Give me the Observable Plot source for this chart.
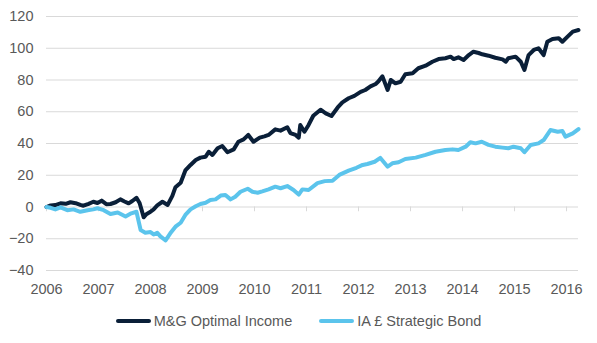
<!DOCTYPE html>
<html><head><meta charset="utf-8">
<script src="https://cdn.jsdelivr.net/npm/d3@7"></script>
<script src="https://cdn.jsdelivr.net/npm/@observablehq/plot@0.6"></script>
<style>
body{margin:0;background:#fff;font-family:"Liberation Sans",Arial,sans-serif;}
#legend{display:flex;justify-content:center;align-items:center;height:32px;font-size:14.5px;color:#595959;width:597px;}
.item{display:flex;align-items:center;}
.sw{width:35px;height:4px;margin-right:3px;border-radius:2px;}
</style></head><body><div id="chart"></div><div id="legend"></div>
<script>
const seriesNames = ["M&G Optimal Income", "IA £ Strategic Bond"];
const seriesColors = ["#0a1f38", "#5bc4ec"];
const xTicks = [2006, 2007, 2008, 2009, 2010, 2011, 2012, 2013, 2014, 2015, 2016];
const yTicks = [-40, -20, 0, 20, 40, 60, 80, 100, 120];

const mgYears = [2006.0, 2006.08, 2006.17, 2006.27, 2006.37, 2006.46, 2006.56, 2006.65, 2006.71, 2006.81, 2006.90, 2006.98,
  2007.06, 2007.15, 2007.23, 2007.33, 2007.42, 2007.50, 2007.58, 2007.65, 2007.73, 2007.79, 2007.87, 2007.92,
  2008.0, 2008.06, 2008.13, 2008.23, 2008.33, 2008.42, 2008.48, 2008.58, 2008.67, 2008.77, 2008.87, 2008.96,
  2009.06, 2009.12, 2009.19, 2009.29, 2009.38, 2009.48, 2009.60, 2009.69, 2009.79, 2009.88, 2009.98,
  2010.10, 2010.19, 2010.27, 2010.40, 2010.50, 2010.63, 2010.69, 2010.79, 2010.85, 2010.88, 2010.96,
  2011.04, 2011.13, 2011.27, 2011.37, 2011.48, 2011.60, 2011.69, 2011.81, 2011.92,
  2012.04, 2012.13, 2012.23, 2012.33, 2012.38, 2012.46, 2012.56, 2012.62, 2012.71, 2012.81, 2012.90,
  2013.04, 2013.15, 2013.29, 2013.42, 2013.54, 2013.67, 2013.77, 2013.83, 2013.92,
  2014.02, 2014.12, 2014.21, 2014.31, 2014.38, 2014.50, 2014.63, 2014.77, 2014.83, 2014.88,
  2015.02, 2015.12, 2015.19, 2015.27, 2015.37, 2015.46, 2015.56, 2015.63, 2015.73, 2015.85, 2015.92,
  2016.02, 2016.12, 2016.23];
const mgValues = [0, 1, 1.2, 2.3, 2.0, 3.0, 2.4, 1.3, 0.8, 2.0, 3.3, 2.5,
  4.0, 1.8, 1.9, 3.0, 4.8, 3.5, 2.3, 3.8, 5.8, 2.5, -6.5, -4.5,
  -3.0, -1.5, 1.0, 3.3, 1.3, 7.0, 12.5, 15.3, 23.0, 26.5, 29.6, 31.1,
  31.7, 34.8, 32.8, 37.0, 38.4, 34.5, 36.3, 41.1, 42.6, 45.4, 41.1,
  43.7, 44.5, 45.4, 48.9, 48.1, 50.2, 46.6, 45.4, 43.7, 51.7, 47.4,
  51.7, 57.5, 61.3, 59.0, 57.3, 62.7, 65.9, 68.5, 70.0,
  72.5, 73.7, 76.0, 77.5, 79.0, 82.3, 73.7, 80.0, 77.9, 78.9, 83.6,
  84.2, 87.4, 89.0, 91.5, 93.2, 93.7, 94.7, 93.2, 94.3,
  92.6, 95.7, 97.8, 97.0, 96.2, 95.3, 94.0, 93.0, 91.5, 93.7,
  94.7, 91.5, 86.3, 95.7, 98.9, 100.0, 95.7, 104.1, 105.8, 106.3, 104.1,
  107.3, 110.5, 111.5];

const iaYears = [2006.0, 2006.08, 2006.17, 2006.27, 2006.40, 2006.52, 2006.65, 2006.79, 2006.90, 2006.98,
  2007.10, 2007.23, 2007.37, 2007.52, 2007.63, 2007.73, 2007.81, 2007.90,
  2008.0, 2008.06, 2008.13, 2008.19, 2008.29, 2008.38, 2008.48, 2008.58, 2008.67, 2008.77, 2008.87, 2008.96,
  2009.06, 2009.15, 2009.25, 2009.35, 2009.44, 2009.54, 2009.63, 2009.73, 2009.87, 2009.96,
  2010.06, 2010.15, 2010.27, 2010.40, 2010.50, 2010.63, 2010.75, 2010.85, 2010.92,
  2011.04, 2011.21, 2011.35, 2011.50, 2011.63, 2011.81, 2011.96,
  2012.08, 2012.17, 2012.31, 2012.42, 2012.56, 2012.65, 2012.77, 2012.90,
  2013.10, 2013.29, 2013.48, 2013.67, 2013.81, 2013.92,
  2014.06, 2014.15, 2014.25, 2014.37, 2014.50, 2014.63, 2014.77, 2014.88, 2014.98,
  2015.12, 2015.19, 2015.31, 2015.46, 2015.56, 2015.69, 2015.83, 2015.92, 2015.98,
  2016.12, 2016.23];
const iaValues = [0, -0.5, -1.5, -0.2, -2.0, -1.5, -3.0, -2.0, -1.5, -0.8,
  -2.0, -4.4, -3.5, -6.0, -4.0, -3.0, -14.5, -16.2,
  -15.8, -17.3, -16.2, -18.5, -21.0, -16.6, -12.4, -9.9, -5.0, -1.5, 0.5, 1.9,
  2.7, 4.4, 4.8, 7.2, 7.6, 4.8, 6.5, 9.6, 11.5, 9.6,
  9.0, 9.8, 11.1, 12.8, 11.8, 13.2, 10.7, 7.8, 11.1,
  10.7, 15.0, 16.3, 16.5, 20.2, 22.9, 24.7,
  26.5, 27.1, 28.5, 30.9, 25.4, 27.5, 28.2, 30.2,
  31.1, 32.8, 34.8, 35.9, 36.3, 35.9,
  38.0, 40.8, 40.1, 41.1, 39.1, 38.0, 37.4, 37.0, 38.0,
  37.0, 34.5, 39.1, 40.1, 42.2, 48.5, 47.4, 47.9, 44.3,
  46.4, 49.1];

const mg = mgYears.map((t, i) => ({t, v: mgValues[i]}));
const ia = iaYears.map((t, i) => ({t, v: iaValues[i]}));

const chart = Plot.plot({
  width: 597, height: 305,
  marginLeft: 46, marginRight: 19, marginTop: 16, marginBottom: 35,
  style: {fontFamily: "'Liberation Sans', Arial, sans-serif", fontSize: "14.5px", color: "#595959", background: "#fff"},
  x: {domain: [2006, 2016.23], label: null},
  y: {domain: [-40, 120], label: null},
  marks: [
    Plot.gridY(yTicks, {stroke: "#d9d9d9", strokeOpacity: 1, strokeWidth: 1}),
    Plot.ruleX(xTicks, {x: d => d, y1: 0, y2: -3, stroke: "#d9d9d9", strokeWidth: 1}),
    Plot.axisY(yTicks, {tickSize: 0, tickPadding: 13, fontSize: 14.5, label: null}),
    Plot.axisX(xTicks, {tickSize: 0, tickPadding: 13, fontSize: 14.5, tickFormat: d => String(d), label: null}),
    Plot.line(mg, {x: "t", y: "v", stroke: seriesColors[0], strokeWidth: 4, strokeLinejoin: "round", strokeLinecap: "round"}),
    Plot.line(ia, {x: "t", y: "v", stroke: seriesColors[1], strokeWidth: 4, strokeLinejoin: "round", strokeLinecap: "round"})
  ]
});
document.getElementById("chart").appendChild(chart);

const legend = document.getElementById("legend");
seriesNames.forEach((name, i) => {
  const item = document.createElement("div");
  item.className = "item";
  if (i === 0) item.style.marginRight = "27px";
  const sw = document.createElement("span");
  sw.className = "sw";
  sw.style.background = seriesColors[i];
  const label = document.createElement("span");
  label.textContent = name;
  item.appendChild(sw);
  item.appendChild(label);
  legend.appendChild(item);
});
</script>
</body></html>
